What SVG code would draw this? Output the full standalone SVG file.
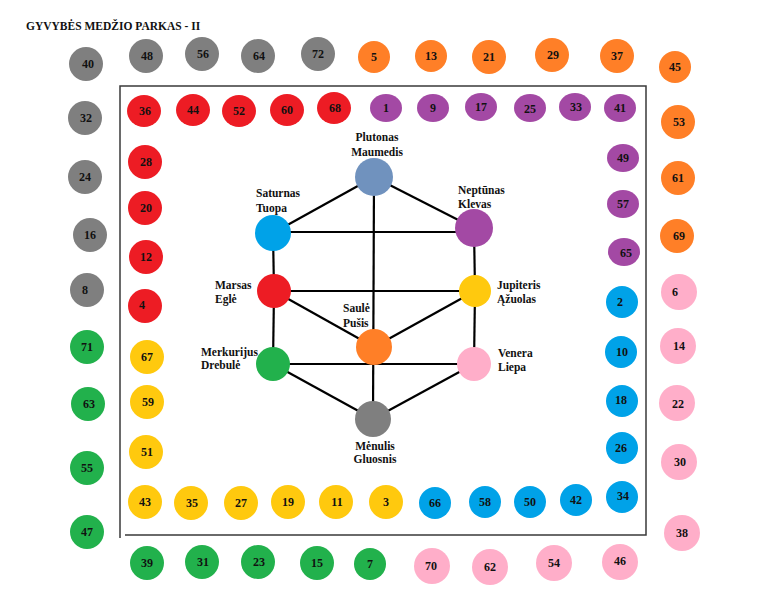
<svg xmlns="http://www.w3.org/2000/svg" width="768" height="613" viewBox="0 0 768 613">
<style>
text{font-family:"Liberation Serif","Times New Roman",serif;font-weight:bold;fill:#111}
.num{font-size:12px;text-anchor:middle}
.lbl{font-size:11.5px}
.mid{text-anchor:middle}
.gy{fill:#7f7f7f}.rd{fill:#ed1c24}.or{fill:#ff7f27}.pu{fill:#a349a4}
.ye{fill:#ffc90e}.bl{fill:#00a2e8}.gr{fill:#22b14c}.pk{fill:#ffaec9}.pl{fill:#7092be}
.edge{stroke:#000;stroke-width:2.2;fill:none}
</style>
<rect width="768" height="613" fill="#fff"/>
<text x="26" y="30" style="font-size:11.5px">GYVYBĖS MEDŽIO PARKAS - II</text>
<g id="frame" fill="none" stroke="#3a3a3a" stroke-width="1.5">
<path d="M120,538 V86 H646 V535 H125"/>
</g>
<g id="connectors">
<line class="edge" x1="374" y1="177" x2="273" y2="233"/>
<line class="edge" x1="374" y1="177" x2="474" y2="228"/>
<line class="edge" x1="374" y1="177" x2="373" y2="419"/>
<line class="edge" x1="273" y1="232" x2="474" y2="232"/>
<line class="edge" x1="273" y1="233" x2="274" y2="291"/>
<line class="edge" x1="474" y1="228" x2="475" y2="291"/>
<line class="edge" x1="274" y1="291" x2="475" y2="291"/>
<line class="edge" x1="274" y1="291" x2="374" y2="347"/>
<line class="edge" x1="475" y1="291" x2="374" y2="347"/>
<line class="edge" x1="274" y1="291" x2="273" y2="364"/>
<line class="edge" x1="475" y1="291" x2="474" y2="364"/>
<line class="edge" x1="273" y1="364" x2="474" y2="364"/>
<line class="edge" x1="273" y1="364" x2="373" y2="419"/>
<line class="edge" x1="474" y1="364" x2="373" y2="419"/>
</g>
<g id="plutonas"><circle class="pl" cx="374" cy="177" r="19"/><text class="lbl mid" x="377" y="141">Plutonas</text><text class="lbl mid" x="377" y="156">Maumedis</text></g>
<g id="saturnas"><circle class="bl" cx="273" cy="233" r="18"/><text class="lbl" x="256" y="197">Saturnas</text><text class="lbl" x="256" y="212">Tuopa</text></g>
<g id="neptunas"><circle class="pu" cx="474" cy="228" r="19"/><text class="lbl" x="458" y="194">Neptūnas</text><text class="lbl" x="458" y="208">Klevas</text></g>
<g id="marsas"><circle class="rd" cx="274" cy="291" r="17"/><text class="lbl" x="215" y="289">Marsas</text><text class="lbl" x="215" y="303">Eglė</text></g>
<g id="jupiteris"><circle class="ye" cx="475" cy="291" r="16"/><text class="lbl" x="497" y="289">Jupiteris</text><text class="lbl" x="497" y="303">Ąžuolas</text></g>
<g id="saule"><circle class="or" cx="374" cy="347" r="18"/><text class="lbl" x="343" y="312">Saulė</text><text class="lbl" x="343" y="327">Pušis</text></g>
<g id="merkurijus"><circle class="gr" cx="273" cy="364" r="17"/><text class="lbl" x="201" y="356">Merkurijus</text><text class="lbl" x="201" y="369">Drebulė</text></g>
<g id="venera"><circle class="pk" cx="474" cy="364" r="17"/><text class="lbl" x="498" y="357">Venera</text><text class="lbl" x="498" y="371">Liepa</text></g>
<g id="menulis"><circle class="gy" cx="373" cy="419" r="18"/><text class="lbl mid" x="375" y="450">Mėnulis</text><text class="lbl mid" x="375" y="463">Gluosnis</text></g>

<g id="n40"><circle class="gy" cx="86" cy="64" r="17"/><text class="num" x="88" y="68">40</text></g>
<g id="n48"><circle class="gy" cx="146" cy="56" r="17"/><text class="num" x="147" y="60">48</text></g>
<g id="n56"><circle class="gy" cx="202" cy="54" r="17"/><text class="num" x="203" y="58">56</text></g>
<g id="n64"><circle class="gy" cx="258" cy="56" r="17"/><text class="num" x="259" y="60">64</text></g>
<g id="n72"><circle class="gy" cx="318" cy="54" r="17"/><text class="num" x="318" y="58">72</text></g>
<g id="n5"><circle class="or" cx="374" cy="57" r="16"/><text class="num" x="374" y="61">5</text></g>
<g id="n13"><circle class="or" cx="431" cy="56" r="16"/><text class="num" x="431" y="60">13</text></g>
<g id="n21"><circle class="or" cx="489" cy="57" r="17"/><text class="num" x="489" y="61">21</text></g>
<g id="n29"><circle class="or" cx="552" cy="55" r="17"/><text class="num" x="553" y="59">29</text></g>
<g id="n37"><circle class="or" cx="617" cy="56" r="17"/><text class="num" x="617" y="60">37</text></g>
<g id="n45"><circle class="or" cx="675" cy="67" r="16"/><text class="num" x="675" y="71">45</text></g>
<g id="n53"><circle class="or" cx="678" cy="122" r="17"/><text class="num" x="679" y="126">53</text></g>
<g id="n61"><circle class="or" cx="678" cy="178" r="17"/><text class="num" x="678" y="182">61</text></g>
<g id="n69"><circle class="or" cx="677" cy="236" r="17"/><text class="num" x="679" y="240">69</text></g>

<g id="n36"><ellipse class="rd" cx="144" cy="111" rx="17" ry="16"/><text class="num" x="145" y="115">36</text></g>
<g id="n44"><ellipse class="rd" cx="193" cy="110" rx="17" ry="16"/><text class="num" x="193" y="114">44</text></g>
<g id="n52"><ellipse class="rd" cx="239" cy="111" rx="17" ry="16"/><text class="num" x="239" y="115">52</text></g>
<g id="n60"><ellipse class="rd" cx="287" cy="110" rx="17" ry="16"/><text class="num" x="287" y="114">60</text></g>
<g id="n68"><ellipse class="rd" cx="334" cy="108" rx="17" ry="16"/><text class="num" x="335" y="112">68</text></g>
<g id="n28"><circle class="rd" cx="145" cy="162" r="17"/><text class="num" x="146" y="166">28</text></g>
<g id="n20"><circle class="rd" cx="145" cy="208" r="17"/><text class="num" x="146" y="212">20</text></g>
<g id="n12"><circle class="rd" cx="146" cy="257" r="17"/><text class="num" x="146" y="261">12</text></g>
<g id="n4"><circle class="rd" cx="145" cy="306" r="17"/><text class="num" x="142" y="309">4</text></g>

<g id="n1"><ellipse class="pu" cx="386" cy="108" rx="16" ry="14"/><text class="num" x="386" y="112">1</text></g>
<g id="n9"><ellipse class="pu" cx="433" cy="108" rx="16" ry="14"/><text class="num" x="433" y="112">9</text></g>
<g id="n17"><ellipse class="pu" cx="481" cy="107" rx="16" ry="14"/><text class="num" x="481" y="111">17</text></g>
<g id="n25"><ellipse class="pu" cx="530" cy="108" rx="16" ry="14"/><text class="num" x="530" y="113">25</text></g>
<g id="n33"><ellipse class="pu" cx="575" cy="107" rx="16" ry="14"/><text class="num" x="576" y="111">33</text></g>
<g id="n41"><ellipse class="pu" cx="620" cy="108" rx="16" ry="14"/><text class="num" x="620" y="112">41</text></g>
<g id="n49"><ellipse class="pu" cx="623" cy="158" rx="16" ry="14"/><text class="num" x="623" y="162">49</text></g>
<g id="n57"><ellipse class="pu" cx="623" cy="204" rx="16" ry="14"/><text class="num" x="623" y="208">57</text></g>
<g id="n65"><ellipse class="pu" cx="624" cy="252" rx="16" ry="14"/><text class="num" x="626" y="257">65</text></g>

<g id="n32"><circle class="gy" cx="85" cy="118" r="17"/><text class="num" x="86" y="122">32</text></g>
<g id="n24"><circle class="gy" cx="85" cy="177" r="17"/><text class="num" x="85" y="181">24</text></g>
<g id="n16"><circle class="gy" cx="90" cy="235" r="17"/><text class="num" x="90" y="239">16</text></g>
<g id="n8"><circle class="gy" cx="87" cy="290" r="17"/><text class="num" x="85" y="294">8</text></g>

<g id="n71"><circle class="gr" cx="87" cy="347" r="17"/><text class="num" x="87" y="351">71</text></g>
<g id="n63"><circle class="gr" cx="88" cy="404" r="17"/><text class="num" x="89" y="408">63</text></g>
<g id="n55"><circle class="gr" cx="87" cy="468" r="17"/><text class="num" x="87" y="472">55</text></g>
<g id="n47"><circle class="gr" cx="87" cy="532" r="17"/><text class="num" x="87" y="536">47</text></g>
<g id="n39"><circle class="gr" cx="147" cy="563" r="17"/><text class="num" x="147" y="567">39</text></g>
<g id="n31"><circle class="gr" cx="202" cy="562" r="17"/><text class="num" x="203" y="566">31</text></g>
<g id="n23"><circle class="gr" cx="258" cy="562" r="17"/><text class="num" x="259" y="566">23</text></g>
<g id="n15"><circle class="gr" cx="317" cy="563" r="17"/><text class="num" x="317" y="567">15</text></g>
<g id="n7"><circle class="gr" cx="370" cy="564" r="16"/><text class="num" x="370" y="568">7</text></g>

<g id="n67"><circle class="ye" cx="147" cy="357" r="17"/><text class="num" x="147" y="361">67</text></g>
<g id="n59"><circle class="ye" cx="147" cy="402" r="17"/><text class="num" x="148" y="406">59</text></g>
<g id="n51"><circle class="ye" cx="146" cy="452" r="17"/><text class="num" x="147" y="456">51</text></g>
<g id="n43"><circle class="ye" cx="145" cy="502" r="17"/><text class="num" x="145" y="506">43</text></g>
<g id="n35"><circle class="ye" cx="191" cy="503" r="17"/><text class="num" x="192" y="507">35</text></g>
<g id="n27"><circle class="ye" cx="241" cy="503" r="17"/><text class="num" x="241" y="507">27</text></g>
<g id="n19"><circle class="ye" cx="288" cy="502" r="17"/><text class="num" x="288" y="506">19</text></g>
<g id="n11"><circle class="ye" cx="336" cy="502" r="17"/><text class="num" x="337" y="506">11</text></g>
<g id="n3"><circle class="ye" cx="386" cy="502" r="17"/><text class="num" x="386" y="506">3</text></g>

<g id="n66"><circle class="bl" cx="435" cy="503" r="16"/><text class="num" x="435" y="507">66</text></g>
<g id="n58"><circle class="bl" cx="485" cy="502" r="16"/><text class="num" x="485" y="506">58</text></g>
<g id="n50"><circle class="bl" cx="530" cy="502" r="16"/><text class="num" x="530" y="506">50</text></g>
<g id="n42"><circle class="bl" cx="576" cy="500" r="16"/><text class="num" x="576" y="504">42</text></g>
<g id="n34"><circle class="bl" cx="622" cy="497" r="16"/><text class="num" x="623" y="500">34</text></g>
<g id="n26"><circle class="bl" cx="622" cy="448" r="16"/><text class="num" x="621" y="452">26</text></g>
<g id="n18"><circle class="bl" cx="622" cy="401" r="16"/><text class="num" x="621" y="404">18</text></g>
<g id="n10"><circle class="bl" cx="621" cy="352" r="16"/><text class="num" x="622" y="356">10</text></g>
<g id="n2"><circle class="bl" cx="622" cy="302" r="16"/><text class="num" x="620" y="306">2</text></g>

<g id="n6"><circle class="pk" cx="679" cy="292" r="18"/><text class="num" x="675" y="296">6</text></g>
<g id="n14"><circle class="pk" cx="678" cy="346" r="18"/><text class="num" x="679" y="350">14</text></g>
<g id="n22"><circle class="pk" cx="677" cy="403" r="18"/><text class="num" x="678" y="408">22</text></g>
<g id="n30"><circle class="pk" cx="679" cy="462" r="18"/><text class="num" x="680" y="466">30</text></g>
<g id="n38"><circle class="pk" cx="682" cy="533" r="18"/><text class="num" x="682" y="537">38</text></g>
<g id="n46"><circle class="pk" cx="620" cy="562" r="18"/><text class="num" x="620" y="565">46</text></g>
<g id="n54"><circle class="pk" cx="554" cy="563" r="18"/><text class="num" x="554" y="567">54</text></g>
<g id="n62"><circle class="pk" cx="490" cy="567" r="18"/><text class="num" x="490" y="571">62</text></g>
<g id="n70"><circle class="pk" cx="432" cy="566" r="18"/><text class="num" x="431" y="570">70</text></g>
</svg>
